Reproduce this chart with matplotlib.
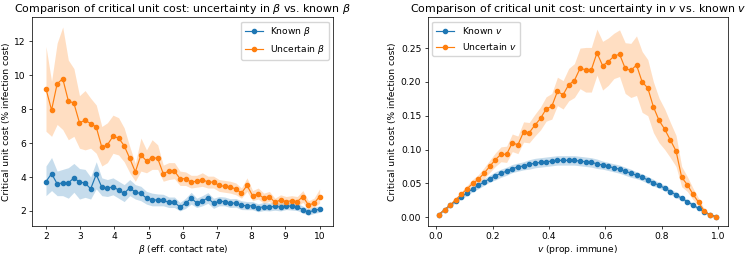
import numpy as np
import matplotlib
matplotlib.use("Agg")
import matplotlib.pyplot as plt

# ---------------- Data: left panel (beta) ----------------
beta = np.linspace(2, 10, 50)
known_beta = [3.73, 4.20, 3.60, 3.65, 3.65, 3.95, 3.70, 3.65, 3.30, 4.15,
              3.40, 3.33, 3.43, 3.23, 3.03, 3.37, 3.10, 3.03, 2.75, 2.67,
              2.63, 2.63, 2.50, 2.50, 2.23, 2.45, 2.75, 2.47, 2.60, 2.76,
              2.45, 2.57, 2.55, 2.45, 2.47, 2.33, 2.30, 2.30, 2.18, 2.25,
              2.23, 2.27, 2.23, 2.30, 2.27, 2.23, 2.07, 1.93, 2.03, 2.10]
known_beta_lo = [2.90, 3.20, 2.90, 2.90, 2.75, 3.10, 2.70, 2.80, 2.70, 3.30,
                 2.90, 2.85, 2.95, 2.75, 2.55, 2.90, 2.70, 2.60, 2.40, 2.30,
                 2.30, 2.30, 2.20, 2.20, 2.00, 2.15, 2.40, 2.20, 2.30, 2.45,
                 2.15, 2.30, 2.30, 2.20, 2.22, 2.08, 2.07, 2.07, 1.95, 2.02,
                 2.00, 2.04, 2.00, 2.08, 2.05, 2.02, 1.88, 1.75, 1.85, 1.92]
known_beta_hi = [4.65, 5.15, 4.35, 4.45, 4.55, 4.80, 4.50, 4.45, 4.00, 4.90,
                 3.95, 3.85, 3.95, 3.75, 3.55, 3.85, 3.55, 3.45, 3.15, 3.05,
                 3.00, 2.98, 2.82, 2.82, 2.50, 2.75, 3.10, 2.75, 2.90, 3.08,
                 2.75, 2.85, 2.82, 2.72, 2.73, 2.60, 2.55, 2.55, 2.42, 2.50,
                 2.47, 2.50, 2.47, 2.53, 2.50, 2.45, 2.28, 2.12, 2.22, 2.30]

uncert_beta = [9.20, 7.95, 9.50, 9.80, 8.50, 8.35, 7.20, 7.35, 7.15, 6.95,
               5.75, 5.90, 6.40, 6.30, 5.85, 5.10, 4.30, 5.30, 4.95, 5.15,
               5.10, 4.20, 4.35, 4.35, 3.90, 3.90, 3.70, 3.75, 3.85, 3.70,
               3.70, 3.50, 3.45, 3.40, 3.30, 3.05, 3.50, 2.90, 3.00, 2.75,
               2.85, 2.50, 2.65, 2.55, 2.60, 2.55, 2.85, 2.35, 2.45, 2.85]
uncert_beta_lo = [6.70, 6.40, 7.10, 6.80, 6.20, 6.40, 5.70, 5.60, 5.70, 5.40,
                  4.65, 4.85, 5.40, 5.30, 4.90, 4.25, 3.75, 4.35, 4.25, 4.45,
                  4.45, 3.75, 3.85, 3.90, 3.50, 3.50, 3.35, 3.40, 3.45, 3.35,
                  3.35, 3.15, 3.10, 3.05, 2.95, 2.75, 3.15, 2.60, 2.70, 2.45,
                  2.55, 2.25, 2.35, 2.28, 2.32, 2.28, 2.50, 2.10, 2.20, 2.45]
uncert_beta_hi = [11.70, 9.65, 11.90, 12.85, 10.90, 10.40, 8.80, 9.10, 8.65, 8.25,
                  6.98, 7.20, 7.65, 7.50, 6.90, 5.80, 4.80, 6.30, 5.60, 6.20,
                  5.90, 4.70, 4.85, 4.85, 4.35, 4.30, 4.10, 4.10, 4.25, 4.05,
                  4.05, 3.85, 3.80, 3.75, 3.65, 3.35, 3.95, 3.20, 3.35, 3.05,
                  3.15, 2.75, 2.95, 2.85, 2.90, 2.85, 3.20, 2.60, 2.75, 3.30]

# ---------------- Data: right panel (v) ----------------
v = np.arange(0.01, 1.0, 0.02)
known_v = [0.004, 0.011, 0.018, 0.024, 0.030, 0.036, 0.042, 0.047, 0.052, 0.057,
           0.061, 0.065, 0.068, 0.072, 0.074, 0.076, 0.078, 0.080, 0.081, 0.082,
           0.083, 0.084, 0.084, 0.084, 0.084, 0.083, 0.082, 0.081, 0.079, 0.077,
           0.075, 0.073, 0.071, 0.068, 0.065, 0.062, 0.059, 0.055, 0.051, 0.047,
           0.043, 0.038, 0.033, 0.028, 0.023, 0.018, 0.013, 0.008, 0.004, 0.001]
known_v_hw = [0.001, 0.002, 0.002, 0.003, 0.003, 0.004, 0.004, 0.005, 0.005, 0.005,
              0.006, 0.006, 0.006, 0.006, 0.006, 0.006, 0.007, 0.007, 0.007, 0.007,
              0.007, 0.007, 0.007, 0.007, 0.007, 0.007, 0.007, 0.007, 0.007, 0.006,
              0.006, 0.006, 0.006, 0.006, 0.006, 0.005, 0.005, 0.005, 0.005, 0.004,
              0.004, 0.004, 0.004, 0.003, 0.003, 0.003, 0.002, 0.002, 0.001, 0.001]

uncert_v = [0.004, 0.011, 0.018, 0.026, 0.034, 0.042, 0.050, 0.056, 0.065, 0.075,
            0.085, 0.093, 0.093, 0.110, 0.107, 0.126, 0.125, 0.136, 0.146, 0.160,
            0.164, 0.186, 0.181, 0.196, 0.202, 0.220, 0.218, 0.218, 0.243, 0.224,
            0.230, 0.238, 0.241, 0.220, 0.217, 0.225, 0.200, 0.191, 0.163, 0.143,
            0.130, 0.114, 0.098, 0.059, 0.048, 0.034, 0.022, 0.009, 0.003, 0.0005]
uncert_v_lo = [0.003, 0.010, 0.016, 0.023, 0.030, 0.037, 0.044, 0.049, 0.057, 0.066,
               0.075, 0.082, 0.081, 0.097, 0.094, 0.111, 0.110, 0.120, 0.129, 0.142,
               0.145, 0.165, 0.160, 0.172, 0.177, 0.190, 0.185, 0.185, 0.210, 0.188,
               0.195, 0.205, 0.208, 0.183, 0.177, 0.180, 0.155, 0.150, 0.125, 0.110,
               0.100, 0.088, 0.075, 0.045, 0.038, 0.026, 0.016, 0.006, 0.002, 0.000]
uncert_v_hi = [0.005, 0.012, 0.020, 0.029, 0.038, 0.047, 0.056, 0.063, 0.073, 0.084,
               0.095, 0.104, 0.105, 0.123, 0.120, 0.141, 0.140, 0.152, 0.163, 0.178,
               0.183, 0.207, 0.202, 0.220, 0.227, 0.250, 0.251, 0.251, 0.278, 0.260,
               0.265, 0.272, 0.277, 0.258, 0.257, 0.268, 0.245, 0.233, 0.200, 0.176,
               0.160, 0.140, 0.121, 0.075, 0.060, 0.043, 0.028, 0.012, 0.004, 0.001]

# ---------------- Plot ----------------
S = 0.66
plt.rcParams.update({
    "font.size": 10 * S,
    "axes.linewidth": 0.8 * S,
    "xtick.major.width": 0.8 * S,
    "ytick.major.width": 0.8 * S,
    "xtick.major.size": 3.5 * S,
    "ytick.major.size": 3.5 * S,
    "xtick.major.pad": 3.5 * S,
    "ytick.major.pad": 3.5 * S,
    "legend.fontsize": 10 * S,
})

fig = plt.figure(figsize=(7.5, 2.57), dpi=100)
ax1 = fig.add_axes([32.3 / 750, 31 / 257, 301 / 750, 209 / 257])
ax2 = fig.add_axes([427.7 / 750, 31 / 257, 300 / 750, 209 / 257])

lw = 0.85
ms = 3.0

ax1.fill_between(beta, known_beta_lo, known_beta_hi, color="C0", alpha=0.25, lw=0)
ax1.fill_between(beta, uncert_beta_lo, uncert_beta_hi, color="C1", alpha=0.25, lw=0)
ax1.plot(beta, known_beta, "o-", color="C0", lw=lw, ms=ms, label=r"Known $\beta$")
ax1.plot(beta, uncert_beta, "o-", color="C1", lw=lw, ms=ms, label=r"Uncertain $\beta$")
ax1.set_xlim(1.6, 10.4)
ax1.set_ylim(1.11, 13.44)
ax1.set_xlabel(r"$\beta$ (eff. contact rate)", labelpad=1.5)
ax1.set_ylabel("Critical unit cost (% infection cost)", labelpad=2.5)
ax1.set_title(r"Comparison of critical unit cost: uncertainty in $\beta$ vs. known $\beta$", pad=3.5)
ax1.legend(loc="upper right")

kv = np.array(known_v)
hw = np.array(known_v_hw)
ax2.fill_between(v, kv - hw, kv + hw, color="C0", alpha=0.25, lw=0)
ax2.fill_between(v, uncert_v_lo, uncert_v_hi, color="C1", alpha=0.25, lw=0)
ax2.plot(v, known_v, "o-", color="C0", lw=lw, ms=ms, label=r"Known $v$")
ax2.plot(v, uncert_v, "o-", color="C1", lw=lw, ms=ms, label=r"Uncertain $v$")
ax2.set_xlim(-0.0295, 1.033)
ax2.set_ylim(-0.013, 0.296)
ax2.set_xlabel(r"$v$ (prop. immune)", labelpad=1.5)
ax2.set_ylabel("Critical unit cost (% infection cost)", labelpad=2.5)
ax2.set_title(r"Comparison of critical unit cost: uncertainty in $v$ vs. known $v$", pad=3.5)
ax2.legend(loc="upper left")

fig.savefig("out.png", dpi=100)
